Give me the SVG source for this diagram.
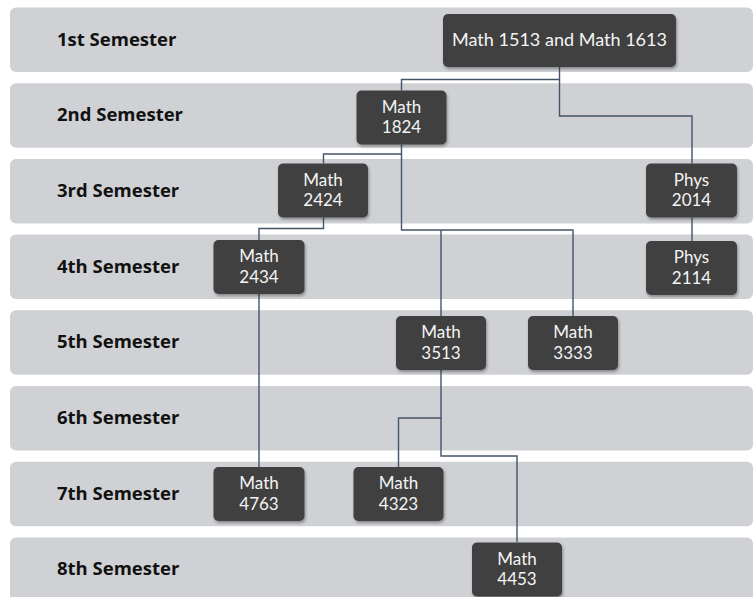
<svg xmlns="http://www.w3.org/2000/svg" width="754" height="597" viewBox="0 0 754 597">
<style>
.band{fill:#d0d1d5}
.lbl{font-family:"Open Sans","Noto Sans",sans-serif;font-weight:bold;font-size:18.5px;fill:#111}
.node rect{fill:#404040;filter:url(#sh)}
.node text{font-family:Lato,"Open Sans",sans-serif;font-size:17px;fill:#f4f4f4;text-anchor:middle}
.conn path{fill:none;stroke:#44546a;stroke-width:1.4}
</style>
<defs>
<filter id="sh" x="-20%" y="-20%" width="140%" height="150%">
<feDropShadow dx="1" dy="2" stdDeviation="1.5" flood-color="#000" flood-opacity="0.35"/>
</filter>
</defs>
<rect width="754" height="597" fill="#fff"/>
<g id="bands">
<rect class="band" x="10" y="7.5" width="743" height="64.5" rx="6"/>
<rect class="band" x="10" y="83.2" width="743" height="64.5" rx="6"/>
<rect class="band" x="10" y="158.9" width="743" height="64.5" rx="6"/>
<rect class="band" x="10" y="234.6" width="743" height="64.5" rx="6"/>
<rect class="band" x="10" y="310.3" width="743" height="64.5" rx="6"/>
<rect class="band" x="10" y="386" width="743" height="64.5" rx="6"/>
<rect class="band" x="10" y="461.7" width="743" height="64.5" rx="6"/>
<rect class="band" x="10" y="537.4" width="743" height="64.5" rx="6"/>
<text class="lbl" x="57" y="46">1st Semester</text>
<text class="lbl" x="57" y="121">2nd Semester</text>
<text class="lbl" x="57" y="197">3rd Semester</text>
<text class="lbl" x="57" y="272.5">4th Semester</text>
<text class="lbl" x="57" y="348.2">5th Semester</text>
<text class="lbl" x="57" y="424">6th Semester</text>
<text class="lbl" x="57" y="499.7">7th Semester</text>
<text class="lbl" x="57" y="575.4">8th Semester</text>
</g>
<g id="connectors" class="conn">
<path d="M559.5,67 V79.5 H401.5 V90.5"/>
<path d="M559.5,79.5 V116 H692 V163.5"/>
<path d="M401.5,144.5 V154 H323.5 V163.5"/>
<path d="M401.5,154 V230 H573 V316"/>
<path d="M441,230 V316"/>
<path d="M323.5,217.5 V228.5 H259 V240"/>
<path d="M692,217.5 V241"/>
<path d="M259,294 V467"/>
<path d="M441,370 V418 H398.5 V467"/>
<path d="M441,418 V456 H517 V542"/>
</g>
<g id="n1513" class="node"><rect x="443" y="14" width="233" height="53" rx="5"/><text x="559.5" y="45.7" textLength="215" lengthAdjust="spacingAndGlyphs">Math 1513 and Math 1613</text></g>
<g id="n1824" class="node"><rect x="356.5" y="90.5" width="90" height="54" rx="5"/><text x="401.5" y="112.6">Math<tspan x="401.5" dy="20.5">1824</tspan></text></g>
<g id="n2424" class="node"><rect x="278" y="163.5" width="90" height="54" rx="5"/><text x="323" y="185.6">Math<tspan x="323" dy="20.5">2424</tspan></text></g>
<g id="p2014" class="node"><rect x="646" y="163.5" width="91" height="54" rx="5"/><text x="691.5" y="185.6">Phys<tspan x="691.5" dy="20.5">2014</tspan></text></g>
<g id="n2434" class="node"><rect x="213.5" y="240" width="91" height="54" rx="5"/><text x="259" y="262.1">Math<tspan x="259" dy="20.5">2434</tspan></text></g>
<g id="p2114" class="node"><rect x="646" y="241" width="91" height="54" rx="5"/><text x="691.5" y="263.1">Phys<tspan x="691.5" dy="20.5">2114</tspan></text></g>
<g id="n3513" class="node"><rect x="396" y="316" width="90" height="54" rx="5"/><text x="441" y="338.1">Math<tspan x="441" dy="20.5">3513</tspan></text></g>
<g id="n3333" class="node"><rect x="528" y="316" width="90" height="54" rx="5"/><text x="573" y="338.1">Math<tspan x="573" dy="20.5">3333</tspan></text></g>
<g id="n4763" class="node"><rect x="213.5" y="467" width="91" height="54" rx="5"/><text x="259" y="489.1">Math<tspan x="259" dy="20.5">4763</tspan></text></g>
<g id="n4323" class="node"><rect x="353.5" y="467" width="90" height="54" rx="5"/><text x="398.5" y="489.1">Math<tspan x="398.5" dy="20.5">4323</tspan></text></g>
<g id="n4453" class="node"><rect x="472" y="542.5" width="90" height="54" rx="5"/><text x="517" y="564.6">Math<tspan x="517" dy="20.5">4453</tspan></text></g>
</svg>
